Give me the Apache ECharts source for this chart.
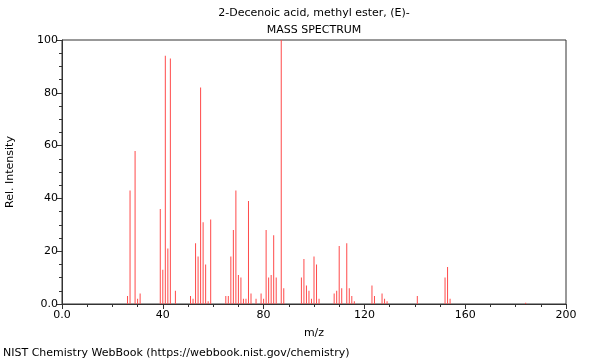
<!DOCTYPE html>
<html>
<head>
<meta charset="utf-8">
<script src="https://cdn.jsdelivr.net/npm/echarts@6/dist/echarts.min.js"></script>
<style>html,body{margin:0;padding:0;background:#fff}#c{width:600px;height:360px}</style>
</head>
<body>
<div id="c"></div>
<script>
const titleLines = ['2-Decenoic acid, methyl ester, (E)-', 'MASS SPECTRUM'];
const footer = 'NIST Chemistry WebBook (https://webbook.nist.gov/chemistry)';
const mz = [26,27,29,30,31,39,40,41,42,43,45,51,52,53,54,55,56,57,58,59,65,66,67,68,69,70,71,72,73,74,75,77,79,80,81,82,83,84,85,87,88,95,96,97,98,99,100,101,102,108,109,110,111,113,114,115,116,123,124,127,128,129,141,152,153,154,184];
const intensity = [3,43,58,2,4,36,13,94,21,93,5,3,2,23,18,82,31,15,1,32,3,3,18,28,43,11,10,2,2,39,4,2,4,2,28,10,11,26,10,100,6,10,17,7,5,2,18,15,2,4,5,22,6,23,6,3,1,7,3,4,2,1,3,10,14,2,0.5];

const chart = echarts.init(document.getElementById('c'), null, {renderer: 'canvas'});
const font = 'DejaVu Sans';
const axisColor = '#333';
chart.setOption({
  animation: false,
  textStyle: {fontFamily: font},
  grid: {left: 62, right: 34, top: 40, bottom: 56, containLabel: false, outerBoundsMode: 'none',
    show: true, borderColor: axisColor, borderWidth: 1, backgroundColor: 'transparent'},
  xAxis: {
    type: 'value', min: 0, max: 200, interval: 40,
    name: 'm/z', nameLocation: 'middle', nameGap: 24,
    nameTextStyle: {fontFamily: font, fontSize: 11, color: '#000'},
    axisLine: {show: true, lineStyle: {color: axisColor}},
    axisTick: {show: true, length: 5, lineStyle: {color: axisColor}},
    minorTick: {show: true, splitNumber: 4, length: 3, lineStyle: {color: axisColor}},
    splitLine: {show: false},
    axisLabel: {fontFamily: font, fontSize: 11, color: '#000', margin: 6,
      formatter: v => v === 0 ? '0.0' : String(v)}
  },
  yAxis: {
    type: 'value', min: 0, max: 100, interval: 20,
    name: 'Rel. Intensity', nameLocation: 'middle', nameGap: 46,
    nameTextStyle: {fontFamily: font, fontSize: 11, color: '#000'},
    axisLine: {show: true, lineStyle: {color: axisColor}},
    axisTick: {show: true, length: 5, lineStyle: {color: axisColor}},
    minorTick: {show: true, splitNumber: 4, length: 3, lineStyle: {color: axisColor}},
    splitLine: {show: false},
    axisLabel: {fontFamily: font, fontSize: 11, color: '#000', margin: 4,
      formatter: v => v === 0 ? '0.0' : String(v)}
  },
  series: [{
    type: 'bar',
    barWidth: 1,
    data: mz.map((m, i) => [m, intensity[i]]),
    itemStyle: {color: '#ff4a4a'},
    silent: true
  }],
  graphic: [
    {type: 'text', x: 314, y: 13, style: {text: titleLines[0], font: '11px "DejaVu Sans"', fill: '#000', align: 'center', verticalAlign: 'middle', textAlign: 'center', textVerticalAlign: 'middle'}},
    {type: 'text', x: 314, y: 30, style: {text: titleLines[1], font: '11px "DejaVu Sans"', fill: '#000', align: 'center', verticalAlign: 'middle', textAlign: 'center', textVerticalAlign: 'middle'}},
    {type: 'text', x: 3, y: 353, style: {text: footer, font: '11px "DejaVu Sans"', fill: '#000', verticalAlign: 'middle', textVerticalAlign: 'middle'}}
  ]
});
</script>
</body>
</html>
